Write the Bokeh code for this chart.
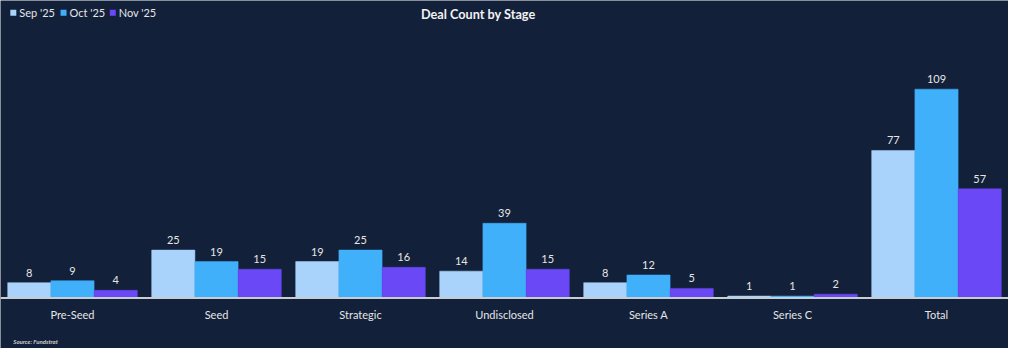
from bokeh.plotting import figure
from bokeh.models import ColumnDataSource, FactorRange, Range1d, Span
from bokeh.transform import dodge
from bokeh.embed import file_html
from bokeh.resources import INLINE

categories = ["Pre-Seed", "Seed", "Strategic", "Undisclosed", "Series A", "Series C", "Total"]
sep_25 = [8, 25, 19, 14, 8, 1, 77]
oct_25 = [9, 19, 25, 39, 12, 1, 109]
nov_25 = [4, 15, 16, 15, 5, 2, 57]
series_names = ["Sep '25", "Oct '25", "Nov '25"]
colors = ["#a9d3fb", "#40b0fb", "#6a48f5"]
title_text = "Deal Count by Stage"
source_text = "Source: Fundstrat"

BG = "#12203a"
TXT = "#e6e6e6"
FONT = "Lato"

W, H = 1008, 348
S = 0.985               # scale from reference pixel layout to this canvas
BASE_PX = 302 * S       # baseline position from top of canvas
PX_PER_UNIT = 1.945 * S
PX_PER_CAT = W / len(categories)

def dy(ref_px_from_top):
    return (BASE_PX - ref_px_from_top * S) / PX_PER_UNIT

def dx(ref_px_from_left):
    return ref_px_from_left * S / PX_PER_CAT

p = figure(width=W, height=H, x_range=FactorRange(*categories),
           y_range=Range1d((BASE_PX - H) / PX_PER_UNIT, BASE_PX / PX_PER_UNIT),
           output_backend="svg", toolbar_location=None,
           background_fill_color=BG, border_fill_color=BG,
           min_border=0)
p.outline_line_color = None
p.grid.grid_line_color = None
p.xaxis.visible = False
p.yaxis.visible = False

src = ColumnDataSource(dict(cat=categories, sep=sep_25, oct=oct_25, nov=nov_25))
offsets = [-0.3, 0.0, 0.3]
for key, off, col in zip(["sep", "oct", "nov"], offsets, colors):
    xd = dodge("cat", off, range=p.x_range)
    p.vbar(x=xd, top=key, width=0.3, source=src, fill_color=col, line_color=col, line_width=0.5)
    p.text(x=xd, y=key, text=key, source=src, text_align="center",
           text_baseline="bottom", y_offset=-6, text_color=TXT,
           text_font={"value": FONT}, text_font_size="11px")

# baseline (category axis line)
p.add_layout(Span(location=0, dimension="width", line_color="#c8cdd4", line_width=2))

# category labels
cat_src = ColumnDataSource(dict(cat=categories, y=[dy(319)] * len(categories)))
p.text(x="cat", y="y", text="cat", source=cat_src, text_align="center", text_baseline="middle",
       text_color=TXT, text_font={"value": FONT}, text_font_size="11px")

# title
p.text(x=[dx(485)], y=[dy(14)], text=[title_text], text_align="center", text_baseline="middle",
       text_color="#f2f2f2", text_font={"value": FONT}, text_font_style="bold",
       text_font_size="12.7px")

# legend (manual)
sq_px = [13, 64, 114]
txt_px = [19, 70, 120]
p.scatter(x=[dx(v) for v in sq_px], y=[dy(12.5)] * 3, marker="square", size=6,
          fill_color=colors, line_color=None)
p.text(x=[dx(v) for v in txt_px], y=[dy(12.5)] * 3, text=series_names, text_align="left",
       text_baseline="middle", text_color=TXT, text_font={"value": FONT},
       text_font_size="11px")

# source
p.text(x=[dx(13)], y=[dy(346)], text=[source_text], text_align="left", text_baseline="middle",
       text_color="#d0d0d0", text_font={"value": FONT}, text_font_style="bold italic",
       text_font_size="6px")

open("out.html", "w").write(file_html(p, INLINE))
